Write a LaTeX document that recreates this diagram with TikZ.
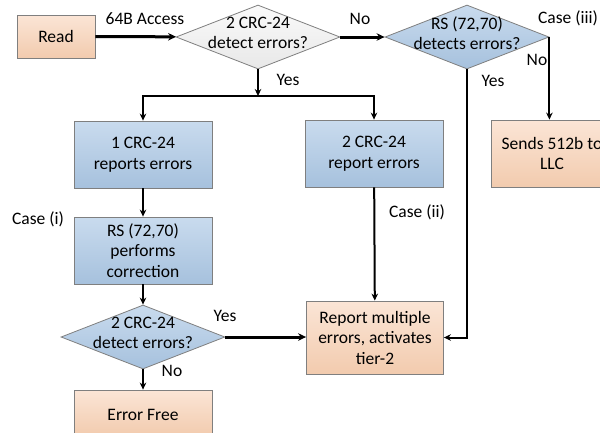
\documentclass[tikz,border=0pt]{standalone}
\usepackage{fontspec}
\setmainfont{Carlito}
\usetikzlibrary{shapes.geometric,arrows.meta}
\definecolor{peachtop}{HTML}{FBE5D6}
\definecolor{peachbot}{HTML}{F2CBAE}
\definecolor{bluetop}{HTML}{C9DBEE}
\definecolor{bluebot}{HTML}{A6C1DD}
\definecolor{greytop}{HTML}{FAFAFA}
\definecolor{greybot}{HTML}{E8E8E8}
\definecolor{edgegrey}{HTML}{7F7F7F}
\tikzset{
  txt/.style={font=\fontsize{17.5}{20.5}\selectfont, align=center, text=black},
  box/.style={draw=edgegrey, line width=0.8pt, inner sep=0pt, minimum width=138pt, minimum height=67pt},
  peachbox/.style={box, top color=peachtop, bottom color=peachbot},
  bluebox/.style={box, top color=bluetop, bottom color=bluebot},
  dia/.style={diamond, draw=edgegrey, line width=0.8pt, inner sep=0pt, minimum width=164pt, minimum height=64pt},
  bluedia/.style={dia, top color=bluetop, bottom color=bluebot},
  greydia/.style={dia, top color=greytop, bottom color=greybot},
  arr/.style={line width=2pt, -{Stealth[length=7pt,width=6.5pt]}},
  thickarr/.style={line width=3pt, -{Stealth[length=8pt,width=7.5pt]}},
  lbl/.style={txt}
}
\begin{document}
\begin{tikzpicture}[x=1pt,y=-1pt]
\useasboundingbox (0,0) rectangle (600,432);
\begin{scope}
\clip (0,0) rectangle (600,432);
% process boxes
\node[peachbox, minimum width=78pt, minimum height=43pt] (read) at (56,36.5) {};
\node[txt] at (read) {Read};
\node[bluebox] (b1) at (143,154.5) {};
\node[txt] at (b1) {1 CRC-24\\reports errors};
\node[bluebox] (b2) at (374,153.5) {};
\node[txt] at (b2) {2 CRC-24\\report errors};
\node[bluebox] (b3) at (143,250.5) {};
\node[txt] at (b3) {RS (72,70)\\performs\\correction};
\node[peachbox, minimum width=122pt] (sends) at (552,153.5) {};
\node[txt] at (sends) {Sends 512b to\\LLC};
\node[peachbox, minimum width=137pt, minimum height=73pt] (rep) at (375,337.5) {};
\node[txt] at (rep) {Report multiple\\errors, activates\\tier-2};
\node[peachbox, minimum height=46pt] (free) at (143,413) {};
\node[txt] at ([yshift=-2pt]free) {Error Free};
% decisions
\node[greydia] (d1) at (258,37) {};
\node[txt] at ([yshift=4pt]d1) {2 CRC-24\\detect errors?};
\node[bluedia] (d2) at (467,37) {};
\node[txt] at ([yshift=4pt]d2) {RS (72,70)\\detects errors?};
\node[bluedia] (d3) at (143,337) {};
\node[txt] at ([yshift=4pt]d3) {2 CRC-24\\detect errors?};
% connectors
\coordinate (br) at (258,96);
\draw[thickarr] (read) -- (d1);
\draw[thickarr] (d1.east) -- (d2.west);
\draw[arr] (d1.south) -- (br);
\draw[arr] (br) -| (b1.north);
\draw[arr] (br) -| (b2.north);
\draw[arr] (d2.east) -- (d2.east |- sends.north);
\draw[arr] (d2.south) |- (rep.east);
\draw[arr] (b1) -- (b3);
\draw[arr] (b3) -- (d3);
\draw[thickarr] (d3.east) -- (d3.east -| rep.west);
\draw[arr] (d3.south) -- (free);
\draw[arr] (b2) -- (rep);
% labels
\node[lbl] at (145,19) {64B Access};
\node[lbl] at (360,19) {No};
\node[lbl] at (568,18) {Case (iii)};
\node[lbl] at (288,80) {Yes};
\node[lbl] at (493,81) {Yes};
\node[lbl] at (537,60) {No};
\node[lbl] at (38,219) {Case (i)};
\node[lbl] at (417,212) {Case (ii)};
\node[lbl] at (225,316) {Yes};
\node[lbl] at (172,371) {No};
\end{scope}
\end{tikzpicture}
\end{document}
